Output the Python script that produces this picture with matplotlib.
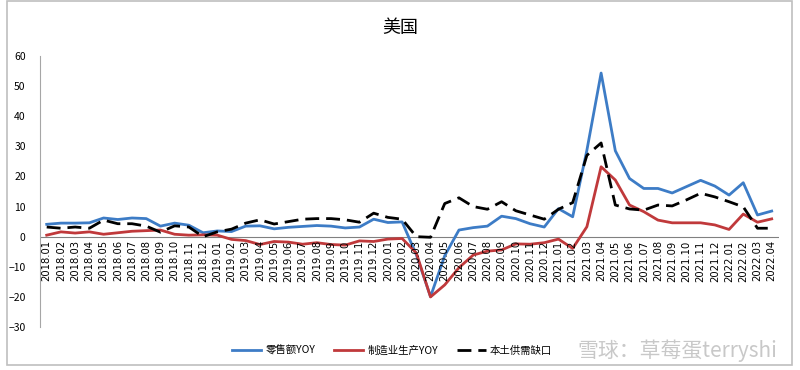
import matplotlib
matplotlib.use("Agg")
import matplotlib.pyplot as plt
from matplotlib.patches import Rectangle

plt.rcParams['font.family'] = ['Noto Sans CJK SC', 'DejaVu Sans']

# months 2018.01 .. 2022.04
months = [f"{y}.{m:02d}" for y in range(2018, 2023) for m in range(1, 13)][:52]

retail = [4.1, 4.5, 4.5, 4.6, 6.2, 5.7, 6.2, 6.0, 3.5, 4.5, 3.8, 1.3,
          1.9, 1.7, 3.5, 3.6, 2.6, 3.1, 3.4, 3.7, 3.5, 2.9, 3.2, 5.8,
          4.7, 4.9, -6.0, -19.9, -6.3, 2.2, 3.0, 3.5, 6.8, 6.0, 4.3, 3.2,
          9.3, 6.6, 28.7, 54.3, 28.5, 19.3, 16.0, 16.0, 14.5, 16.6, 18.7, 16.8,
          13.8, 17.9, 7.2, 8.5]

manuf = [0.5, 1.6, 1.2, 1.6, 0.8, 1.3, 1.8, 2.0, 2.2, 0.8, 0.5, 0.6,
         0.5, -0.9, -1.3, -2.6, -1.6, -1.8, -2.5, -2.0, -2.6, -2.8, -1.4, -1.6,
         -0.8, -0.6, -5.4, -20.0, -16.0, -10.3, -6.1, -4.8, -4.4, -2.4, -2.5, -2.0,
         -0.8, -3.9, 3.3, 23.2, 18.8, 10.5, 8.3, 5.5, 4.6, 4.6, 4.6, 3.9,
         2.4, 7.5, 4.8, 5.9]

gap = [3.2, 2.8, 3.2, 2.8, 5.5, 4.3, 4.3, 3.5, 1.5, 3.6, 3.2, 0.0,
       1.6, 2.5, 4.5, 5.6, 4.2, 5.0, 5.8, 6.0, 6.0, 5.6, 4.8, 7.8,
       6.4, 5.8, 0.0, -0.2, 11.0, 12.9, 10.0, 9.1, 11.6, 8.6, 7.2, 5.8,
       9.1, 11.3, 27.0, 31.1, 10.5, 9.2, 8.8, 10.5, 10.2, 12.2, 14.4, 13.2,
       11.6, 9.9, 2.8, 2.8]

labels = ["零售额YOY", "制造业生产YOY", "本土供需缺口"]

fig = plt.figure(figsize=(8, 3.7), dpi=100)
ax = fig.add_axes([0.0495, 0.116, 0.924, 0.733])

x = list(range(len(months)))
ax.plot(x, retail, color="#3D7CC6", lw=2.0, label=labels[0])
ax.plot(x, manuf, color="#C0393B", lw=2.0, label=labels[1])
ax.plot(x, gap, color="black", lw=2.0, dashes=(5, 2.5), label=labels[2])

ax.set_xlim(-0.5, len(months) - 0.5)
ax.set_ylim(-30, 60)
ax.set_yticks(range(-30, 61, 10))
ax.tick_params(axis="y", length=0, labelsize=7.5, pad=10)

# category labels sit just under the zero line
ax.set_xticks([])
for i, m in enumerate(months):
    ax.text(i, -1.2, m, rotation=90, ha="center", va="top", fontsize=7.2,
            family=["DejaVu Sans"])

ax.axhline(0, color="#808080", lw=0.8, zorder=0)
for s in ["top", "right", "bottom"]:
    ax.spines[s].set_visible(False)
ax.spines["left"].set_color("#A6A6A6")

fig.text(0.5, 0.925, "美国", ha="center", va="center", fontsize=13)

leg = fig.legend(loc="center", bbox_to_anchor=(0.49, 0.052), ncol=3, frameon=False,
                 fontsize=7.5, handlelength=2.8, columnspacing=1.8, handletextpad=0.4)

fig.text(0.972, 0.052, "雪球：草莓蛋terryshi", ha="right", va="center", fontsize=15,
         color="#BBBBBB", alpha=0.8)

fig.patches.append(Rectangle((0.009, 0.013), 0.981, 0.985, transform=fig.transFigure,
                             fill=False, edgecolor="#BFBFBF", lw=1.2))

fig.savefig("out.png", dpi=100)
